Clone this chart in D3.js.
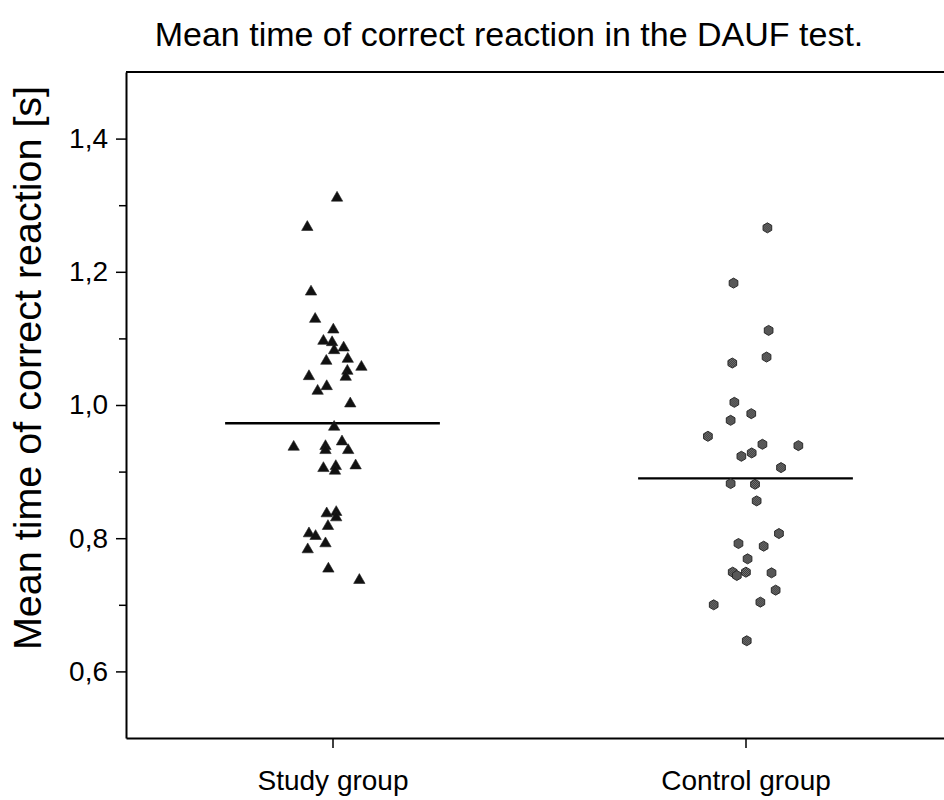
<!DOCTYPE html>
<html>
<head>
<meta charset="utf-8">
<script src="https://cdn.jsdelivr.net/npm/d3@7"></script>
<style>
  html, body { margin: 0; padding: 0; background: #fff; }
  svg { display: block; font-family: "Liberation Sans", Arial, sans-serif; }
</style>
</head>
<body>
<svg id="chart" width="944" height="800"></svg>
<script>
// ---------------- data ----------------
const title = "Mean time of correct reaction in the DAUF test.";
const yLabel = "Mean time of correct reaction [s]";
const categories = ["Study group", "Control group"];
const yTickValues = [0.6, 0.8, 1.0, 1.2, 1.4];
const yTickLabels = ["0,6", "0,8", "1,0", "1,2", "1,4"];
const yMinorTicks = [0.7, 0.9, 1.1, 1.3];

// Study group: reaction time values and horizontal jitter (in category units)
const studyValues = [1.311, 1.267, 1.170, 1.129, 1.113, 1.096, 1.094, 1.086, 1.082, 1.066,
  1.069, 1.057, 1.051, 1.042, 1.043, 1.028, 1.021, 1.002, 0.967, 0.937,
  0.938, 0.932, 0.945, 0.932, 0.905, 0.908, 0.901, 0.909, 0.837, 0.839,
  0.831, 0.818, 0.807, 0.803, 0.792, 0.783, 0.754, 0.737];
const studyJitter = [0.011, -0.061, -0.052, -0.042, 0.002, -0.022, -0.001, 0.027, 0.004, -0.015,
  0.037, 0.070, 0.036, 0.032, -0.057, -0.014, -0.036, 0.043, 0.004, -0.094,
  -0.017, -0.017, 0.023, 0.038, -0.022, 0.008, 0.006, 0.056, -0.014, 0.009,
  0.009, -0.011, -0.057, -0.041, -0.017, -0.060, -0.010, 0.065];

// Control group
const controlValues = [1.266, 1.183, 1.112, 1.072, 1.063, 1.004, 0.987, 0.977, 0.953, 0.941,
  0.939, 0.928, 0.923, 0.906, 0.882, 0.881, 0.856, 0.807, 0.792, 0.788,
  0.769, 0.749, 0.744, 0.749, 0.748, 0.722, 0.700, 0.704, 0.646];
const controlJitter = [0.053, -0.029, 0.056, 0.051, -0.032, -0.027, 0.014, -0.036, -0.091, 0.041,
  0.128, 0.015, -0.010, 0.086, -0.036, 0.023, 0.027, 0.081, -0.017, 0.044,
  0.005, -0.031, -0.021, 0.001, 0.063, 0.073, -0.077, 0.036, 0.003];

const groupMeans = [0.9725, 0.8898];
const meanHalfWidth = 0.26; // in category units

// ---------------- chart ----------------
const svg = d3.select("#chart");
const plotLeft = 126, plotRight = 952, plotTop = 72, plotBottom = 738;

const x = d3.scaleLinear().domain([0.5, 2.5]).range([plotLeft, plotRight]);
const y = d3.scaleLinear().domain([0.5, 1.5]).range([plotBottom, plotTop]);

// pattern for hexagon markers
const defs = svg.append("defs");
const pat = defs.append("pattern").attr("id", "checker")
  .attr("width", 2).attr("height", 2).attr("patternUnits", "userSpaceOnUse");
pat.append("rect").attr("width", 2).attr("height", 2).attr("fill", "#8a8a8a");
pat.append("rect").attr("width", 1).attr("height", 1).attr("fill", "#252525");
pat.append("rect").attr("x", 1).attr("y", 1).attr("width", 1).attr("height", 1).attr("fill", "#252525");

// title
svg.append("text")
  .attr("x", 509).attr("y", 46)
  .attr("text-anchor", "middle")
  .attr("font-size", 34)
  .attr("fill", "#000")
  .text(title);

// y label
svg.append("text")
  .attr("transform", `translate(41, 368) rotate(-90)`)
  .attr("text-anchor", "middle")
  .attr("font-size", 39.5)
  .attr("fill", "#000")
  .text(yLabel);

// top border
svg.append("line")
  .attr("x1", plotLeft).attr("x2", plotRight).attr("y1", plotTop).attr("y2", plotTop)
  .attr("stroke", "#000").attr("stroke-width", 2);

// y axis (major)
const yAxis = d3.axisLeft(y)
  .tickValues(yTickValues)
  .tickFormat((d, i) => yTickLabels[i])
  .tickSize(10).tickSizeOuter(0).tickPadding(8);
const gy = svg.append("g").attr("transform", `translate(${plotLeft},0)`).call(yAxis);
gy.select(".domain").attr("stroke-width", 2);
gy.selectAll(".tick line").attr("stroke-width", 1.5);
gy.selectAll(".tick text").attr("font-size", 28).attr("font-family", "Liberation Sans, Arial, sans-serif").attr("fill", "#000");

// y minor ticks
const yMinor = d3.axisLeft(y).tickValues(yMinorTicks).tickFormat("").tickSize(7).tickSizeOuter(0);
const gym = svg.append("g").attr("transform", `translate(${plotLeft},0)`).call(yMinor);
gym.select(".domain").remove();
gym.selectAll(".tick line").attr("stroke-width", 1.5);

// x axis
const xAxis = d3.axisBottom(x)
  .tickValues([1, 2])
  .tickFormat((d, i) => categories[i])
  .tickSize(10).tickSizeOuter(0).tickPadding(22);
const gx = svg.append("g").attr("transform", `translate(0,${plotBottom})`).call(xAxis);
gx.select(".domain").attr("stroke-width", 2);
gx.selectAll(".tick line").attr("stroke-width", 1.5);
gx.selectAll(".tick text").attr("font-size", 28).attr("font-family", "Liberation Sans, Arial, sans-serif").attr("fill", "#000");

// mean lines
svg.append("g").selectAll("line").data(groupMeans).join("line")
  .attr("x1", (d, i) => x(i + 1 - meanHalfWidth))
  .attr("x2", (d, i) => x(i + 1 + meanHalfWidth))
  .attr("y1", d => y(d)).attr("y2", d => y(d))
  .attr("stroke", "#000").attr("stroke-width", 2.4);

// study markers (triangles)
const tri = d3.symbol().type(d3.symbolTriangle).size(56);
svg.append("g").selectAll("path").data(studyValues).join("path")
  .attr("d", tri)
  .attr("transform", (d, i) => `translate(${x(1 + studyJitter[i])},${y(d)})`)
  .attr("fill", "#111").attr("stroke", "#222").attr("stroke-width", 0.6);

// control markers (hexagons)
const hexR = 5;
const hexPath = d3.range(6).map(k => {
  const a = Math.PI / 6 + k * Math.PI / 3;
  return [hexR * Math.cos(a), hexR * Math.sin(a)];
});
const hexD = "M" + hexPath.map(p => p.join(",")).join("L") + "Z";
svg.append("g").selectAll("path").data(controlValues).join("path")
  .attr("d", hexD)
  .attr("transform", (d, i) => `translate(${x(2 + controlJitter[i])},${y(d)})`)
  .attr("fill", "url(#checker)").attr("stroke", "#2a2a2a").attr("stroke-width", 1);
</script>
</body>
</html>
